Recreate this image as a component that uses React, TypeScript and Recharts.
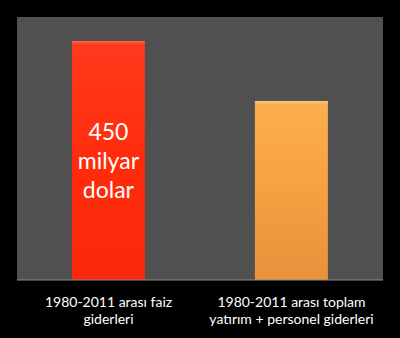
import { BarChart, Bar, XAxis, YAxis, CartesianGrid, LabelList, Cell, Customized } from "recharts";

document.body.style.margin = "0";

const categories = ["1980-2011 arası faiz|giderleri", "1980-2011 arası toplam|yatırım + personel giderleri"];
const values = [450, 337];
const barLabels = ["450|milyar|dolar", ""];
const fills = ["url(#gRed)", "url(#gOrange)"];

const data = categories.map((name, i) => ({ name, value: values[i], label: barLabels[i] }));

const FONT = "Lato, 'Open Sans', sans-serif";

const CatTick = (props: any) => {
  const { x, y, payload } = props;
  const lines = String(payload.value).split("|");
  return (
    <g>
      {lines.map((l, i) => (
        <text key={i} x={x} y={y + 19 + i * 17} textAnchor="middle" fill="#fff" fontSize={14} fontFamily={FONT}>
          {l}
        </text>
      ))}
    </g>
  );
};

const BarText = (props: any) => {
  const { x, y, width, value } = props;
  if (!value) return null;
  const lines = String(value).split("|");
  return (
    <g>
      {lines.map((l, i) => (
        <text key={i} x={x + width / 2} y={y + 99 + i * 29} textAnchor="middle" fill="#fff" fontSize={23} fontFamily={FONT}>
          {l}
        </text>
      ))}
    </g>
  );
};

const BoundaryTicks = (props: any) => {
  const { offset } = props;
  if (!offset) return null;
  const { left, width, top, height } = offset;
  const yb = top + height;
  return (
    <g stroke="#8a8a8a" strokeWidth={1}>
      {[0, 0.5, 1].map((f) => (
        <line key={f} x1={left + f * width} x2={left + f * width} y1={yb} y2={yb + 5} />
      ))}
    </g>
  );
};

export default function App() {
  return (
    <div style={{ width: 400, height: 338, background: "#000" }}>
      <BarChart width={400} height={338} data={data} margin={{ top: 17, right: 17, left: 17, bottom: 28 }} barCategoryGap="30%">
        <defs>
          <linearGradient id="gRed" x1="0" y1="0" x2="0" y2="1">
            <stop offset="0" stopColor="#ff6a55" />
            <stop offset="0.015" stopColor="#ff3a1c" />
            <stop offset="0.5" stopColor="#ff2c0c" />
            <stop offset="1" stopColor="#f8290a" />
          </linearGradient>
          <linearGradient id="gOrange" x1="0" y1="0" x2="0" y2="1">
            <stop offset="0" stopColor="#ffc880" />
            <stop offset="0.02" stopColor="#fcae4c" />
            <stop offset="0.5" stopColor="#f6a042" />
            <stop offset="1" stopColor="#e8913b" />
          </linearGradient>
        </defs>
        <CartesianGrid fill="#505050" stroke="none" horizontal={false} vertical={false} />
        <XAxis dataKey="name" height={30} tick={<CatTick />} tickLine={false} axisLine={{ stroke: "#8a8a8a" }} interval={0} />
        <YAxis hide domain={[0, 495]} />
        <Bar dataKey="value" isAnimationActive={false}>
          {data.map((d, i) => (
            <Cell key={d.name} fill={fills[i]} />
          ))}
          <LabelList dataKey="label" content={<BarText />} />
        </Bar>
        <Customized component={BoundaryTicks} />
      </BarChart>
    </div>
  );
}
